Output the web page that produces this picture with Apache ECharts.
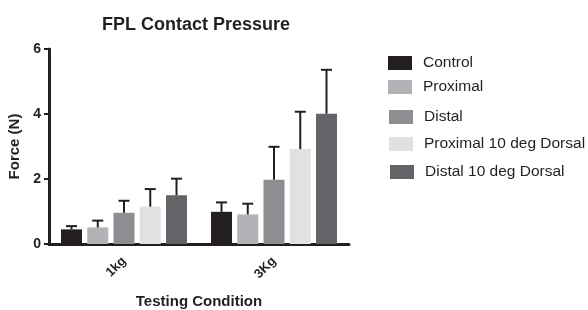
<!DOCTYPE html>
<html>
<head>
<meta charset="utf-8">
<script src="https://cdn.jsdelivr.net/npm/echarts@6/dist/echarts.min.js"></script>
<style>
  html, body { margin: 0; padding: 0; background: #fff; }
  #chart { width: 588px; height: 310px; }
</style>
</head>
<body>
<div id="chart"></div>
<script>
const categories = ["1kg", "3Kg"];
const seriesNames = ["Control", "Proximal", "Distal", "Proximal 10 deg Dorsal", "Distal 10 deg Dorsal"];
const means = [
  [0.45, 0.99],
  [0.51, 0.91],
  [0.96, 1.98],
  [1.15, 2.92],
  [1.50, 4.01]
];
const errTops = [
  [0.55, 1.28],
  [0.72, 1.24],
  [1.33, 2.99],
  [1.69, 4.07],
  [2.01, 5.36]
];
const colors = ["#231f20", "#b2b3b6", "#8d8e92", "#e0e1e3", "#636468"];
const yTicks = [0, 2, 4, 6];

const chart = echarts.init(document.getElementById("chart"));
const font = "'Liberation Sans', Arial, sans-serif";
const ink = "#231f20";
const barW = 21;
const gapPx = barW * 0.25;

// one legend per row, rows are not evenly spaced in the original
const legendTops = [55, 79, 109, 136, 164];
const legendLefts = [388, 388, 389, 389, 390];
const legends = seriesNames.map((name, i) => ({
  data: [name],
  left: legendLefts[i],
  top: legendTops[i],
  padding: 0,
  itemWidth: 24,
  itemHeight: 14,
  itemGap: 10,
  icon: "rect",
  textStyle: { fontFamily: font, fontSize: 15.5, color: ink, padding: [0, 0, 0, 6] },
  selectedMode: false
}));

const barSeries = seriesNames.map((name, i) => ({
  name: name,
  type: "bar",
  data: means[i],
  barWidth: barW,
  barGap: "25%",
  itemStyle: { color: colors[i] },
  z: 2
}));

const errSeries = seriesNames.map((name, i) => ({
  type: "custom",
  silent: true,
  z: 3,
  data: categories.map((c, k) => [k, means[i][k], errTops[i][k]]),
  renderItem: (params, api) => {
    const off = (i - 2) * (barW + gapPx);
    const base = api.coord([api.value(0), api.value(1)]);
    const top = api.coord([api.value(0), api.value(2)]);
    const x = base[0] + off;
    const style = { stroke: ink, lineWidth: 2 };
    return {
      type: "group",
      children: [
        { type: "line", shape: { x1: x, y1: base[1], x2: x, y2: top[1] }, style: style },
        { type: "line", shape: { x1: x - 5.5, y1: top[1], x2: x + 5.5, y2: top[1] }, style: style }
      ]
    };
  }
}));

const option = {
  animation: false,
  title: {
    text: "FPL Contact Pressure",
    left: 191,
    textAlign: "center",
    top: 11,
    textStyle: { fontFamily: font, fontSize: 18, fontWeight: "bold", color: ink }
  },
  legend: legends,
  grid: { left: 49, right: 239, top: 49, bottom: 66, containLabel: false, outerBoundsMode: "none" },
  xAxis: {
    type: "category",
    data: categories,
    name: "Testing Condition",
    nameLocation: "middle",
    nameGap: 50,
    nameTextStyle: { fontFamily: font, fontSize: 15, fontWeight: "bold", color: ink },
    axisLine: { lineStyle: { color: ink, width: 3 } },
    axisTick: { alignWithLabel: true, length: 5, lineStyle: { color: ink, width: 2 } },
    axisLabel: { rotate: 45, margin: 15, fontFamily: font, fontSize: 13, fontWeight: "bold", color: ink }
  },
  yAxis: {
    type: "value",
    min: yTicks[0],
    max: yTicks[yTicks.length - 1],
    interval: 2,
    name: "Force (N)",
    nameLocation: "middle",
    nameGap: 21,
    nameTextStyle: { fontFamily: font, fontSize: 15, fontWeight: "bold", color: ink },
    axisLine: { show: true, lineStyle: { color: ink, width: 3 } },
    axisTick: { show: true, length: 5, lineStyle: { color: ink, width: 2 } },
    axisLabel: { margin: 8, fontFamily: font, fontSize: 14, fontWeight: "bold", color: ink },
    splitLine: { show: false }
  },
  series: barSeries.concat(errSeries)
};

chart.setOption(option);
</script>
</body>
</html>
